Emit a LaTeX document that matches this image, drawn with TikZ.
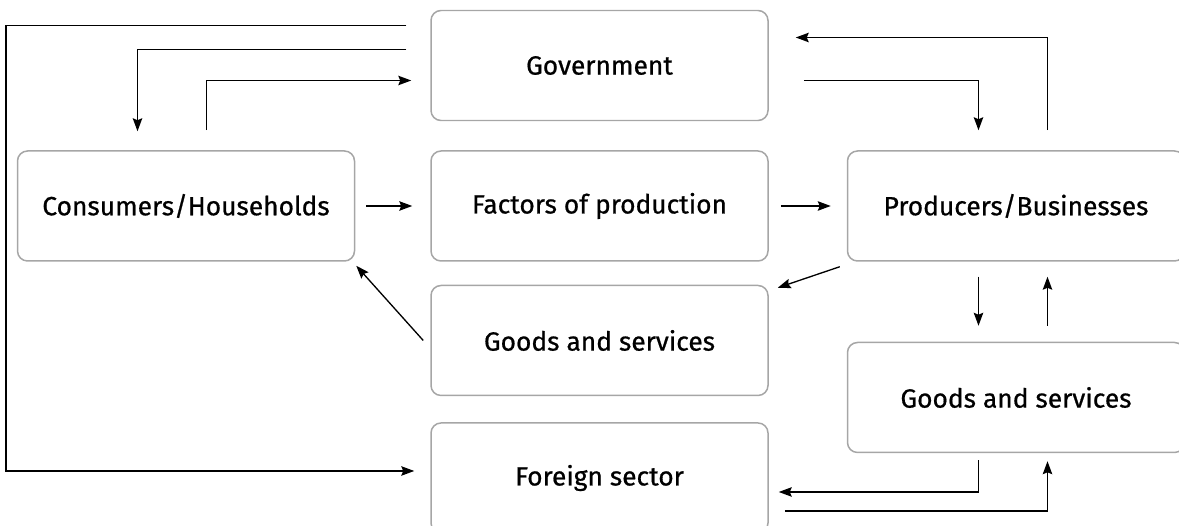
\documentclass[tikz,border=0pt]{standalone}
\usepackage{fontspec}
\setmainfont{Fira Sans}[FakeBold=0.7]
\usepackage{tikz}
\usetikzlibrary{arrows.meta,
                positioning}
\tikzstyle{arrow} = [line width=0.75pt,-{Stealth[length=0.26cm,width=0.19cm,inset=0.04cm]}]
\tikzstyle{sector} = [rectangle, rounded corners=0.2cm, draw=gray!70, line width=0.85pt,
                      minimum width=6.74cm, minimum height=2.2cm, inner sep=0pt,
                      font=\fontsize{15}{18}\selectfont]

\begin{document}
\begin{tikzpicture}
    \useasboundingbox (0,0) rectangle (23.58,-10.52);

    \node[sector] (fact) at (11.99,-4.12) {Factors of production};
    \node[sector] (cons) [left = 1.5cm of fact] {Consumers/Households};
    \node[sector] (prod) [right = 1.56cm of fact] {Producers/Businesses};
    \node[sector] (gov) [above = 0.58cm of fact] {Government};
    \node[sector] (goodsA) [below = 0.46cm of fact] {Goods and services};
    \node[sector] (foreign) [below = 0.52cm of goodsA] {Foreign sector};
    \node[sector] (goodsB) [below = 1.6cm of prod] {Goods and services};
    \coordinate (rim) at (0.12,-9.36);

    \draw [arrow] ([xshift=-0.48cm,yshift=0.8cm]gov.west) -| (rim) |- ([xshift=-0.32cm,yshift=0.14cm]foreign.west);
    \draw [arrow] ([xshift=-0.48cm,yshift=0.32cm]gov.west) -| ([xshift=-0.97cm,yshift=0.38cm]cons.north);
    \draw [arrow] ([xshift=0.41cm,yshift=0.4cm]cons.north) |- ([xshift=-0.38cm,yshift=-0.3cm]gov.west);
    \draw [arrow] ([xshift=0.22cm]cons.east) -- ([xshift=-0.36cm]fact.west);
    \draw [arrow] ([xshift=0.24cm]fact.east) -- ([xshift=-0.32cm]prod.west);
    \draw [arrow] ([xshift=0.7cm,yshift=-0.3cm]gov.east) -| ([xshift=-0.75cm,yshift=0.4cm]prod.north);
    \draw [arrow] ([xshift=0.63cm,yshift=0.4cm]prod.north) |- ([xshift=0.54cm,yshift=0.56cm]gov.east);
    \draw [arrow] ([xshift=-0.14cm,yshift=-0.1cm]prod.south west) -- ([xshift=0.18cm,yshift=-0.06cm]goodsA.north east);
    \draw [arrow] ([xshift=-0.14cm]goodsA.west) -- ([xshift=0.02cm,yshift=-0.08cm]cons.south east);
    \draw [arrow] ([xshift=-0.75cm,yshift=-0.3cm]prod.south) -- ([xshift=-0.75cm,yshift=0.32cm]goodsB.north);
    \draw [arrow] ([xshift=0.63cm,yshift=0.32cm]goodsB.north) -- ([xshift=0.63cm,yshift=-0.3cm]prod.south);
    \draw [arrow] ([xshift=-0.75cm,yshift=-0.14cm]goodsB.south) |- ([xshift=0.2cm,yshift=-0.28cm]foreign.east);
    \draw [arrow] ([xshift=0.32cm,yshift=-0.66cm]foreign.east) -| ([xshift=0.63cm,yshift=-0.16cm]goodsB.south);
\end{tikzpicture}
\end{document}
